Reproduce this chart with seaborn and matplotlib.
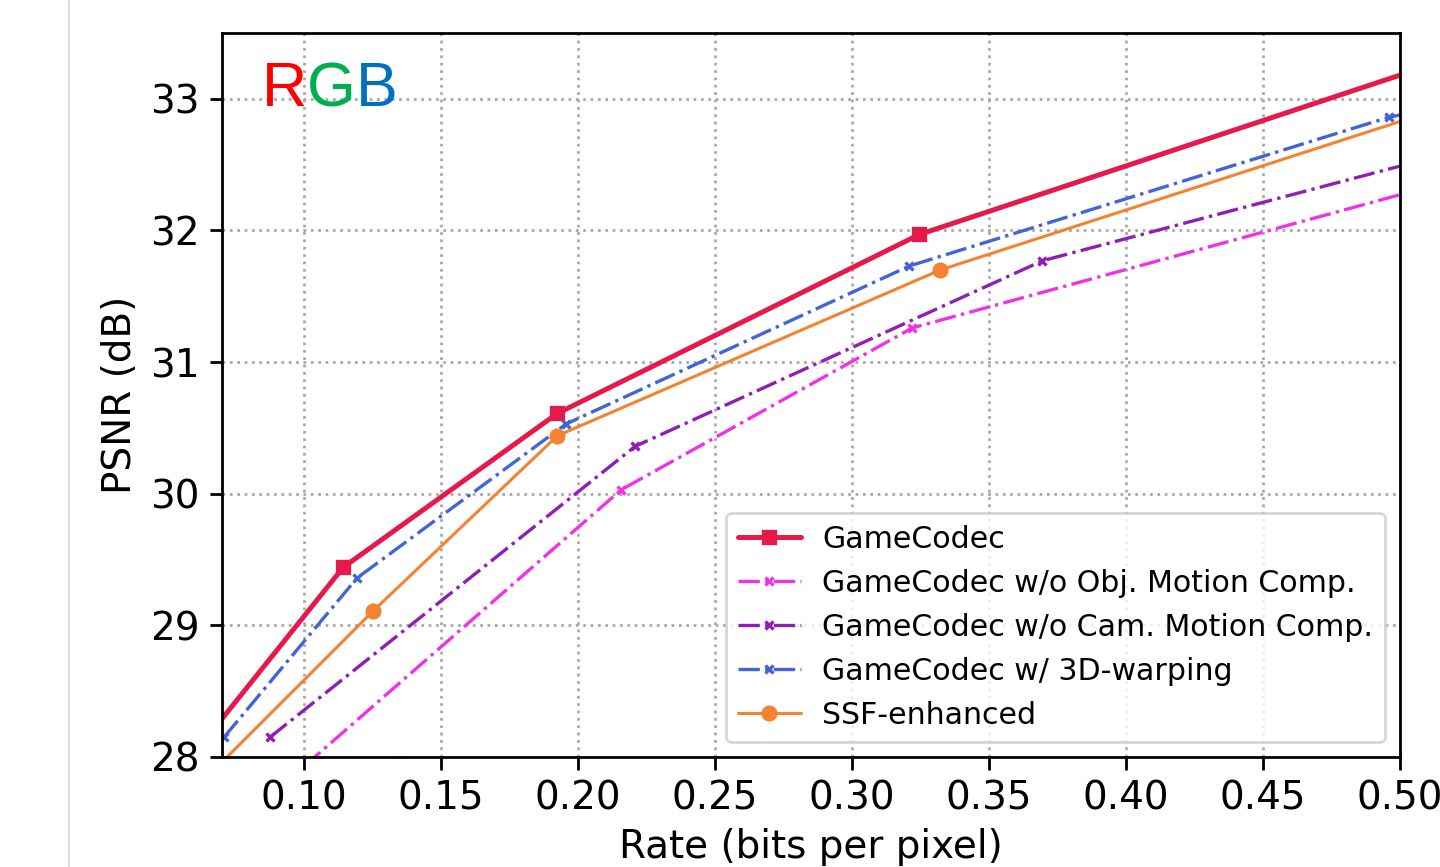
import matplotlib
matplotlib.use("Agg")
import matplotlib.pyplot as plt
from matplotlib.lines import Line2D
import seaborn as sns
import pandas as pd

# ---- data ----
gc_x = [0.055, 0.1142, 0.1924, 0.3246, 0.60]
gc_y = [27.90, 29.44, 30.61, 31.97, 33.87]

obj_x = [0.100, 0.2157, 0.3220, 0.60]
obj_y = [27.93, 30.03, 31.26, 32.84]

cam_x = [0.0875, 0.2208, 0.3695, 0.60]
cam_y = [28.15, 30.36, 31.77, 33.04]

warp_x = [0.0707, 0.1193, 0.1956, 0.3209, 0.4959, 0.60]
warp_y = [28.15, 29.36, 30.53, 31.73, 32.86, 33.30]

ssf_x = [0.068, 0.1252, 0.1924, 0.3322, 0.60]
ssf_y = [27.92, 29.11, 30.44, 31.70, 33.50]

labels = ["GameCodec", "GameCodec w/o Obj. Motion Comp.",
          "GameCodec w/o Cam. Motion Comp.", "GameCodec w/ 3D-warping",
          "SSF-enhanced"]
x_ticks = [0.10, 0.15, 0.20, 0.25, 0.30, 0.35, 0.40, 0.45, 0.50]
y_ticks = [28, 29, 30, 31, 32, 33]

sns.set_style("ticks")
plt.rcParams["font.family"] = ["DejaVu Sans"]
plt.rcParams.update({"text.color": "black", "axes.labelcolor": "black",
                     "xtick.color": "black", "ytick.color": "black"})

fig = plt.figure(figsize=(7.2, 4.335), dpi=200)
ax = fig.add_axes([0.1542, 0.1269, 0.818, 0.835])

styles = [
    (gc_x, gc_y, "#e6194b", "-", "s", 1.8, 4.6),
    (obj_x, obj_y, "#f032e6", "-.", "x", 1.2, 3.0),
    (cam_x, cam_y, "#911eb4", "-.", "x", 1.2, 3.0),
    (warp_x, warp_y, "#4363d8", "-.", "x", 1.2, 3.0),
    (ssf_x, ssf_y, "#f58231", "-", "o", 1.1, 4.6),
]

for (xs, ys, c, ls, mk, lw, ms), lab in zip(styles, labels):
    df = pd.DataFrame({"rate": xs, "psnr": ys})
    sns.lineplot(data=df, x="rate", y="psnr", ax=ax, color=c, linestyle=ls,
                 marker=mk, lw=lw, markersize=ms, markeredgewidth=1.2,
                 markeredgecolor=c, label=lab, errorbar=None, sort=False)

ax.set_xlim(0.07, 0.50)
ax.set_ylim(28, 33.5)
ax.set_xticks(x_ticks)
ax.set_xticklabels([f"{v:.2f}" for v in x_ticks])
ax.set_yticks(y_ticks)
ax.tick_params(labelsize=14, length=4.5, width=1.0, color="black",
               labelcolor="black")
ax.grid(True, linestyle=":", color="#aaaaaa", linewidth=1.0)
for s in ax.spines.values():
    s.set_visible(True)
    s.set_color("black")
    s.set_linewidth(1.0)
ax.set_xlabel("Rate (bits per pixel)", fontsize=14, color="black")
ax.set_ylabel("PSNR (dB)", fontsize=14, color="black")

leg = ax.legend(loc="lower right", fontsize=10.8, frameon=True,
                fancybox=True, edgecolor="#cccccc", framealpha=0.8,
                handlelength=2.1, handletextpad=0.7, borderpad=0.4,
                labelspacing=0.5)
for t in leg.get_texts():
    t.set_color("black")

# RGB label
x0, yb = 0.034, 0.899
fig.canvas.draw()
renderer = fig.canvas.get_renderer()
for ch, col in zip("RGB", ["#ff0000", "#00b050", "#0070c0"]):
    t = ax.text(x0, yb, ch, transform=ax.transAxes, color=col,
                fontsize=22.6, family=["Liberation Sans", "DejaVu Sans"],
                va="baseline", ha="left")
    bb = t.get_window_extent(renderer=renderer)
    x0 = ax.transAxes.inverted().transform((bb.x1, bb.y0))[0]

fig.add_artist(Line2D([69 / 1440, 69 / 1440], [0, 1], transform=fig.transFigure,
                      color="#dddddd", lw=0.7))

fig.savefig("out.png", dpi=200)
